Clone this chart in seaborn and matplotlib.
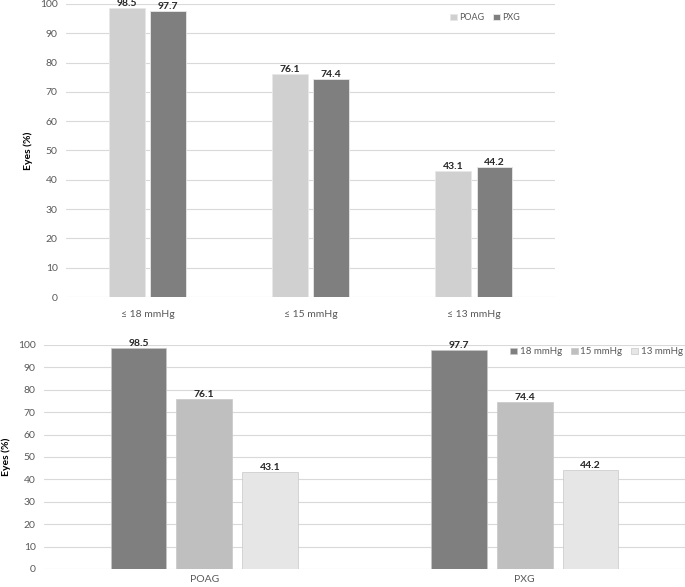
import pandas as pd
import matplotlib.pyplot as plt
import seaborn as sns

# Data
thresholds = ['≤ 18 mmHg', '≤ 15 mmHg', '≤ 13 mmHg']
groups = ['POAG', 'PXG']
poag_vals = [98.5, 76.1, 43.1]
pxg_vals = [97.7, 74.4, 44.2]
pressure_labels = ['18 mmHg', '15 mmHg', '13 mmHg']

top_df = pd.DataFrame({
    'threshold': thresholds * 2,
    'group': ['POAG'] * 3 + ['PXG'] * 3,
    'eyes': poag_vals + pxg_vals,
})
bottom_df = pd.DataFrame({
    'group': ['POAG'] * 3 + ['PXG'] * 3,
    'pressure': pressure_labels * 2,
    'eyes': poag_vals + pxg_vals,
})

sns.set_style('white')
plt.rcParams['font.family'] = ['Lato', 'DejaVu Sans']

fig = plt.figure(figsize=(6.85, 5.87), dpi=100)
ax1 = fig.add_axes([0.0964, 0.494, 0.714, 0.4994])
ax2 = fig.add_axes([0.0642, 0.0307, 0.9358, 0.3816])

tick_color = '#595959'
grid_color = '#d9d9d9'

# Top chart: threshold on x, glaucoma type as hue
sns.barplot(data=top_df, x='threshold', y='eyes', hue='group', ax=ax1,
            palette=['#d0d0d0', '#7f7f7f'], width=0.51, gap=0.14,
            edgecolor='#e8e8e8', linewidth=0.6)

# Bottom chart: glaucoma type on x, pressure as hue
sns.barplot(data=bottom_df, x='group', y='eyes', hue='pressure', ax=ax2,
            palette=['#7f7f7f', '#bfbfbf', '#e6e6e6'], width=0.615, gap=0.15,
            edgecolor='#c8c8c8', linewidth=0.5)

for ax in (ax1, ax2):
    ax.set_ylim(0, 100)
    ax.set_yticks(range(0, 101, 10))
    ax.yaxis.grid(True, color=grid_color, linewidth=0.8)
    ax.set_axisbelow(True)
    for s in ax.spines.values():
        s.set_visible(False)
    ax.tick_params(axis='both', length=0, labelsize=7.5, colors=tick_color, pad=6)
    ax.set_xlabel('')
    ax.set_ylabel('Eyes (%)', fontsize=7.5, fontweight='bold', color='black')
    for c in ax.containers:
        ax.bar_label(c, fmt='%.1f', fontsize=7.5, fontweight='bold', padding=0)

ax1.yaxis.set_label_coords(-0.068, 0.5)
ax2.yaxis.set_label_coords(-0.052, 0.5)
ax1.tick_params(axis='x', pad=9)
ax2.tick_params(axis='x', pad=4)

ax1.legend(loc='center', bbox_to_anchor=(0.857, 0.952), ncol=2, frameon=False,
           fontsize=6.5, handlelength=0.7, handleheight=0.7, handletextpad=0.3,
           columnspacing=1.0, labelcolor=tick_color)
ax2.legend(loc='center', bbox_to_anchor=(0.862, 0.969), ncol=3, frameon=False,
           fontsize=7, handlelength=0.7, handleheight=0.7, handletextpad=0.3,
           columnspacing=0.9, labelcolor=tick_color)

plt.savefig('out.png', dpi=100)
